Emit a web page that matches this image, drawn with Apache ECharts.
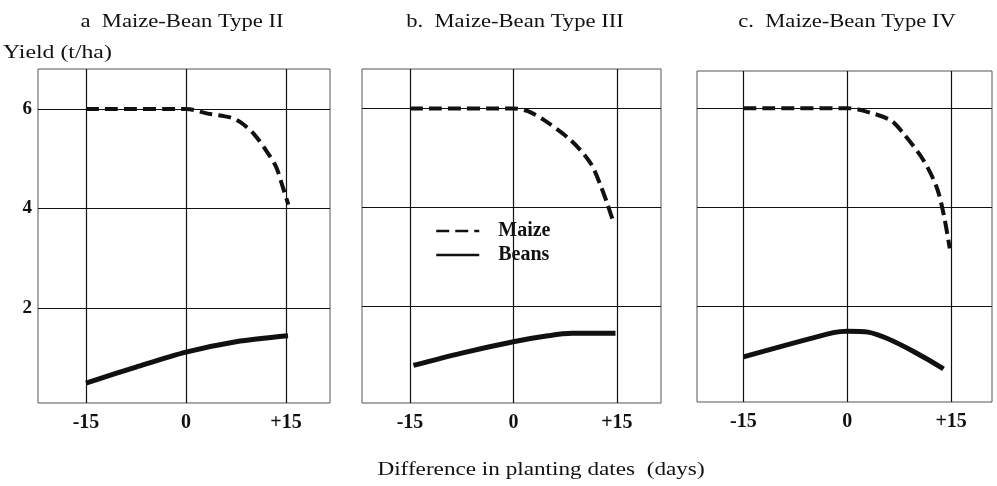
<!DOCTYPE html>
<html>
<head>
<meta charset="utf-8">
<title>Maize-Bean yield vs planting date difference</title>
<script src="https://cdn.jsdelivr.net/npm/echarts@6/dist/echarts.min.js"></script>
<style>
    html, body { margin: 0; padding: 0; background: #fff; }
    #chart { width: 997px; height: 486px; }
</style>
</head>
<body>
<div id="chart"></div>
<script>
// values: [difference in days, yield t/ha]
const panelTitles = ['a  Maize-Bean Type II', 'b.  Maize-Bean Type III', 'c.  Maize-Bean Type IV'];
const xTicks = [-15, 0, 15];
const yTicks = [2, 4, 6];

const maizeA = [[-15, 6], [0, 6], [3.1, 5.91], [6.6, 5.83], [8.1, 5.74], [10.1, 5.51], [12, 5.17], [13.5, 4.84], [14.5, 4.44], [15.35, 4.08]];
const beansA = [[-15, 0.5], [-7.5, 0.82], [0, 1.12], [7.5, 1.33], [15.3, 1.45]];

const maizeB = [[-15, 6], [0, 6], [2, 5.95], [4.4, 5.77], [8.3, 5.36], [11.2, 4.89], [12.7, 4.42], [13.6, 4.08], [14.5, 3.7]];
const beansB = [[-14.5, 0.8], [-7.5, 1.05], [0, 1.28], [5, 1.4], [8.5, 1.45], [14.8, 1.45]];

const maizeC = [[-15, 6], [0, 6], [2, 5.96], [6.2, 5.76], [8.1, 5.49], [11, 4.95], [12.9, 4.41], [13.9, 3.87], [14.8, 3.17]];
const beansC = [[-15, 0.98], [-2, 1.47], [0, 1.5], [3, 1.48], [13.9, 0.74]];

const maizeSets = [maizeA, maizeB, maizeC];
const beanSets = [beansA, beansB, beansC];

const serif = 'Liberation Serif';
const ink = '#111';
const stretch = 1.19; // the scanned lettering is wider than Times

// pixel boxes of the three panels
const boxes = [
    { left: 38, top: 69, width: 292, height: 334, xMin: -22.2, xMax: 21.6, yMin: 0.1, yMax: 6.8, titleX: 182 },
    { left: 362, top: 69, width: 299, height: 334, xMin: -21.96, xMax: 21.4, yMin: 0.04, yMax: 6.8, titleX: 515 },
    { left: 697, top: 71, width: 295, height: 331, xMin: -21.7, xMax: 20.9, yMin: 0.07, yMax: 6.75, titleX: 847 }
];

const chart = echarts.init(document.getElementById('chart'));

const grids = [], xAxes = [], yAxes = [], series = [], texts = [];
boxes.forEach(function (b, i) {
    grids.push({
        left: b.left, top: b.top, width: b.width, height: b.height,
        show: true, borderColor: '#555', borderWidth: 1, backgroundColor: 'transparent'
    });
    xAxes.push({
        type: 'value', gridIndex: i, min: b.xMin, max: b.xMax,
        axisLine: { show: false },
        axisTick: { show: false, customValues: xTicks },
        splitLine: { show: true, lineStyle: { color: ink, width: 1.2 } },
        axisLabel: {
            customValues: xTicks, margin: 10,
            fontFamily: serif, fontWeight: 'bold', fontSize: 20, color: ink,
            formatter: function (v) { return v > 0 ? '+' + v : String(v); }
        }
    });
    yAxes.push({
        type: 'value', gridIndex: i, min: b.yMin, max: b.yMax,
        axisLine: { show: false },
        axisTick: { show: false, customValues: yTicks },
        splitLine: { show: true, lineStyle: { color: ink, width: 1.2 } },
        axisLabel: {
            show: i === 0, customValues: yTicks, margin: 6,
            fontFamily: serif, fontWeight: 'bold', fontSize: 19, color: ink
        }
    });
    series.push({
        name: 'Maize', type: 'line', xAxisIndex: i, yAxisIndex: i,
        data: maizeSets[i], symbol: 'none', smooth: 0.3, silent: true,
        lineStyle: { color: ink, width: 4, type: [13, 6] },
        itemStyle: { color: ink }
    });
    series.push({
        name: 'Beans', type: 'line', xAxisIndex: i, yAxisIndex: i,
        data: beanSets[i], symbol: 'none', smooth: 0.3, silent: true,
        lineStyle: { color: ink, width: 5 },
        itemStyle: { color: ink }
    });
    texts.push({
        type: 'text', x: b.titleX, y: 22, scaleX: stretch,
        style: {
            text: panelTitles[i], fill: ink, textAlign: 'center', textVerticalAlign: 'middle',
            font: '19px "Liberation Serif"'
        }
    });
});

texts.push({
    type: 'text', x: 3, y: 53, scaleX: 1.25,
    style: { text: 'Yield (t/ha)', fill: ink, textVerticalAlign: 'middle', font: '19px "Liberation Serif"' }
});
texts.push({
    type: 'text', x: 541, y: 470, scaleX: 1.22,
    style: {
        text: 'Difference in planting dates  (days)', fill: ink,
        textAlign: 'center', textVerticalAlign: 'middle', font: '19px "Liberation Serif"'
    }
});

const option = {
    backgroundColor: '#fff',
    animation: false,
    grid: grids,
    xAxis: xAxes,
    yAxis: yAxes,
    legend: {
        data: ['Maize', 'Beans'],
        orient: 'vertical',
        left: 430, top: 216,
        itemWidth: 43, itemHeight: 14, itemGap: 4,
        selectedMode: false,
        itemStyle: { opacity: 0 },
        lineStyle: { width: 2.5 },
        textStyle: {
            fontFamily: serif, fontWeight: 'bold', fontSize: 20, color: ink,
            padding: [0, 0, 0, 14]
        }
    },
    graphic: texts,
    series: series
};

chart.setOption(option);
</script>
</body>
</html>
